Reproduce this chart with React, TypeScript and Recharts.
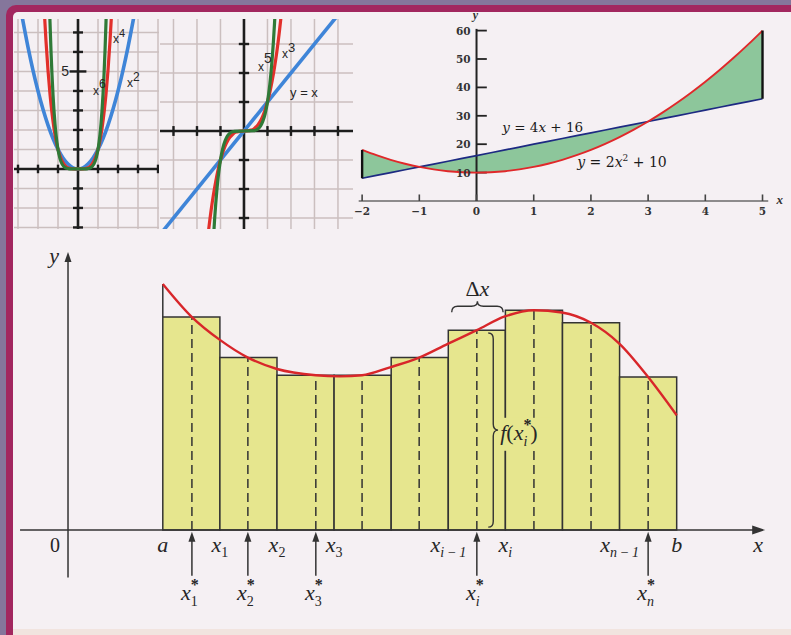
import React from 'react';
import {
  ComposedChart,
  Line,
  Area,
  XAxis,
  YAxis,
  ReferenceLine,
  ReferenceDot,
  ReferenceArea,
} from 'recharts';

// ---------------- top-left: even powers ----------------
const squareX = [-2.8, -2.5, -2.25, -2, -1.75, -1.5, -1.25, -1, -0.75, -0.5, -0.25, 0, 0.25, 0.5, 0.75, 1, 1.25, 1.5, 1.75, 2, 2.25, 2.5, 2.8];
const squareY = [7.84, 6.25, 5.06, 4, 3.06, 2.25, 1.56, 1, 0.56, 0.25, 0.06, 0, 0.06, 0.25, 0.56, 1, 1.56, 2.25, 3.06, 4, 5.06, 6.25, 7.84];
const fourthX = [-1.7, -1.6, -1.5, -1.4, -1.3, -1.2, -1.1, -1, -0.9, -0.8, -0.7, -0.6, -0.5, -0.4, -0.3, -0.2, 0, 0.2, 0.3, 0.4, 0.5, 0.6, 0.7, 0.8, 0.9, 1, 1.1, 1.2, 1.3, 1.4, 1.5, 1.6, 1.7];
const fourthY = [8.35, 6.55, 5.06, 3.84, 2.86, 2.07, 1.46, 1, 0.66, 0.41, 0.24, 0.13, 0.06, 0.03, 0.01, 0, 0, 0, 0.01, 0.03, 0.06, 0.13, 0.24, 0.41, 0.66, 1, 1.46, 2.07, 2.86, 3.84, 5.06, 6.55, 8.35];
const sixthX = [-1.45, -1.4, -1.35, -1.3, -1.25, -1.2, -1.15, -1.1, -1.05, -1, -0.95, -0.9, -0.8, -0.7, -0.6, -0.5, -0.4, 0, 0.4, 0.5, 0.6, 0.7, 0.8, 0.9, 0.95, 1, 1.05, 1.1, 1.15, 1.2, 1.25, 1.3, 1.35, 1.4, 1.45];
const sixthY = [9.29, 7.53, 6.05, 4.83, 3.81, 2.99, 2.31, 1.77, 1.34, 1, 0.74, 0.53, 0.26, 0.12, 0.05, 0.02, 0, 0, 0, 0.02, 0.05, 0.12, 0.26, 0.53, 0.74, 1, 1.34, 1.77, 2.31, 2.99, 3.81, 4.83, 6.05, 7.53, 9.29];
const evenGridX = [-3, -2, -1, 1, 2, 3, 4];
const evenGridY = [-3, -2, -1, 1, 2, 3, 4, 5, 6, 7];

// ---------------- top-middle: odd powers ----------------
const identityX = [-3.6, 4.7];
const identityY = [-3.6, 4.7];
const cubeX = [-1.6, -1.5, -1.4, -1.3, -1.2, -1.1, -1, -0.9, -0.8, -0.7, -0.6, -0.5, -0.4, -0.3, -0.2, 0, 0.2, 0.3, 0.4, 0.5, 0.6, 0.7, 0.8, 0.9, 1, 1.1, 1.2, 1.3, 1.4, 1.5, 1.6];
const cubeY = [-4.1, -3.38, -2.74, -2.2, -1.73, -1.33, -1, -0.73, -0.51, -0.34, -0.22, -0.13, -0.06, -0.03, -0.01, 0, 0.01, 0.03, 0.06, 0.13, 0.22, 0.34, 0.51, 0.73, 1, 1.33, 1.73, 2.2, 2.74, 3.38, 4.1];
const fifthX = [-1.35, -1.3, -1.25, -1.2, -1.15, -1.1, -1.05, -1, -0.9, -0.8, -0.7, -0.6, -0.5, -0.4, 0, 0.4, 0.5, 0.6, 0.7, 0.8, 0.9, 1, 1.05, 1.1, 1.15, 1.2, 1.25, 1.3, 1.35];
const fifthY = [-4.48, -3.71, -3.05, -2.49, -2.01, -1.61, -1.28, -1, -0.59, -0.33, -0.17, -0.08, -0.03, -0.01, 0, 0.01, 0.03, 0.08, 0.17, 0.33, 0.59, 1, 1.28, 1.61, 2.01, 2.49, 3.05, 3.71, 4.48];
const oddGridX = [-3, -2, -1, 1, 2, 3, 4];
const oddGridY = [-3, -2, -1, 1, 2, 3];

// ---------------- top-right: area between curves ----------------
const regionX = [-2, -1.75, -1.5, -1.25, -1, -0.75, -0.5, -0.25, 0, 0.25, 0.5, 0.75, 1, 1.25, 1.5, 1.75, 2, 2.25, 2.5, 2.75, 3, 3.25, 3.5, 3.75, 4, 4.25, 4.5, 4.75, 5];
const parabolaY = [18, 16.13, 14.5, 13.13, 12, 11.13, 10.5, 10.13, 10, 10.13, 10.5, 11.13, 12, 13.13, 14.5, 16.13, 18, 20.13, 22.5, 25.13, 28, 31.13, 34.5, 38.13, 42, 46.13, 50.5, 55.13, 60];
const straightY = [8, 9, 10, 11, 12, 13, 14, 15, 16, 17, 18, 19, 20, 21, 22, 23, 24, 25, 26, 27, 28, 29, 30, 31, 32, 33, 34, 35, 36];
const regionTicksX = [-2, -1, 0, 1, 2, 3, 4, 5];
const regionTickLabelsX = ['\u22122', '\u22121', '0', '1', '2', '3', '4', '5'];
const regionTicksY = [10, 20, 30, 40, 50, 60];

// ---------------- bottom: Riemann sum ----------------
const partitionEdges = [1.66, 2.66, 3.66, 4.66, 5.66, 6.66, 7.66, 8.66, 9.66, 10.66];
const rectHeights = [3.73, 3.02, 2.71, 2.71, 3.02, 3.5, 3.85, 3.63, 2.68];
const samplePoints = [2.17, 3.15, 4.34, 5.15, 6.15, 7.16, 8.16, 9.16, 10.16];
const curveX = [1.66, 2.17, 2.66, 3.15, 3.66, 4.34, 4.76, 5.15, 5.64, 6.15, 6.65, 7.16, 7.65, 8.16, 8.65, 9.16, 9.65, 10.16, 10.66];
const curveY = [4.31, 3.73, 3.33, 3.02, 2.82, 2.71, 2.69, 2.71, 2.85, 3.02, 3.26, 3.5, 3.74, 3.85, 3.81, 3.63, 3.27, 2.68, 2.01];
const edgeLabelIdx = [0, 1, 2, 3, 5, 6, 8, 9];
const edgeLabelMain = ['a', 'x', 'x', 'x', 'x', 'x', 'x', 'b'];
const edgeLabelSub = ['', '1', '2', '3', 'i\u2009\u2212\u20091', 'i', 'n\u2009\u2212\u20091', ''];
const starIdx = [0, 1, 2, 5, 8];
const starSub = ['1', '2', '3', 'i', 'n'];

// ---------------- styles ----------------
const M0 = { top: 0, right: 0, bottom: 0, left: 0 };
const SANS = '"Liberation Sans", Arial, sans-serif';
const SERIF = '"Liberation Serif", "Times New Roman", serif';
const BOOK = '"DejaVu Serif", serif';
const GRID = '#cbbfbf';
const AXIS = '#1d1d1d';
const BLUE = '#3f85d8';
const RED = '#e2302b';
const GREEN = '#2f7a37';
const BAR = '#e6e68e';
const INK = '#262626';

const pairs = (xs: number[], ys: number[]) => xs.map((x, i) => ({ x, y: ys[i] }));
const isItalicSub = (s: string) => /^[a-z]/.test(s);

const mark = (key: string, x: number, y: number, draw: (cx: number, cy: number) => React.ReactNode) => (
  <ReferenceDot
    key={key}
    x={x}
    y={y}
    r={1}
    ifOverflow="visible"
    zIndex={2000}
    shape={(p: any) => <g>{draw(p.cx, p.cy)}</g>}
  />
);

function EvenPowers() {
  return (
    <ComposedChart width={145} height={210} margin={M0}>
      <XAxis type="number" dataKey="x" domain={[-3.2, 4.05]} hide allowDataOverflow />
      <YAxis type="number" domain={[-3.08, 7.69]} hide allowDataOverflow />
      {evenGridX.map((v) => (
        <ReferenceLine key={'gx' + v} x={v} stroke={GRID} strokeWidth={1.5} zIndex={0} />
      ))}
      {evenGridY.map((v) => (
        <ReferenceLine key={'gy' + v} y={v} stroke={GRID} strokeWidth={1.5} zIndex={0} />
      ))}
      <ReferenceLine x={0} stroke={AXIS} strokeWidth={2.6} zIndex={10} />
      <ReferenceLine y={0} stroke={AXIS} strokeWidth={2.6} zIndex={10} />
      {evenGridX.map((v) => (
        <ReferenceLine key={'tx' + v} segment={[{ x: v, y: -0.22 }, { x: v, y: 0.22 }]} stroke={AXIS} strokeWidth={2.4} zIndex={10} />
      ))}
      {evenGridY.map((v) => (
        <ReferenceLine
          key={'ty' + v}
          segment={[{ x: v === 5 ? -0.42 : -0.25, y: v }, { x: v === 5 ? 0.42 : 0.25, y: v }]}
          stroke={AXIS}
          strokeWidth={2.4}
          zIndex={10}
        />
      ))}
      <Line data={pairs(squareX, squareY)} dataKey="y" type="monotone" stroke={BLUE} strokeWidth={3.6} dot={false} isAnimationActive={false} zIndex={400} />
      <Line data={pairs(fourthX, fourthY)} dataKey="y" type="monotone" stroke={RED} strokeWidth={3.2} dot={false} isAnimationActive={false} zIndex={401} />
      <Line data={pairs(sixthX, sixthY)} dataKey="y" type="monotone" stroke={GREEN} strokeWidth={3.2} dot={false} isAnimationActive={false} zIndex={402} />
      {mark('l5', -0.45, 5, (cx, cy) => (
        <text x={cx} y={cy + 5} textAnchor="end" fontFamily={SANS} fontSize={14} fill={INK}>5</text>
      ))}
      {mark('l4', 1.75, 6.46, (cx, cy) => (
        <text x={cx} y={cy} fontFamily={SANS} fontSize={12} fill={INK}>x<tspan dy={-6} fontSize={11}>4</tspan></text>
      ))}
      {mark('l6', 0.75, 3.8, (cx, cy) => (
        <text x={cx} y={cy} fontFamily={SANS} fontSize={12} fill={INK}>x<tspan dy={-7} fontSize={12}>6</tspan></text>
      ))}
      {mark('l2', 2.45, 4.2, (cx, cy) => (
        <text x={cx} y={cy} fontFamily={SANS} fontSize={12} fill={INK}>x<tspan dy={-6} fontSize={12}>2</tspan></text>
      ))}
    </ComposedChart>
  );
}

function OddPowers() {
  return (
    <ComposedChart width={193} height={210} margin={M0}>
      <XAxis type="number" dataKey="x" domain={[-3.574, 4.64]} hide allowDataOverflow />
      <YAxis type="number" domain={[-3.379, 3.862]} hide allowDataOverflow />
      {oddGridX.map((v) => (
        <ReferenceLine key={'gx' + v} x={v} stroke={GRID} strokeWidth={1.5} zIndex={0} />
      ))}
      {oddGridY.map((v) => (
        <ReferenceLine key={'gy' + v} y={v} stroke={GRID} strokeWidth={1.5} zIndex={0} />
      ))}
      <ReferenceLine x={0} stroke={AXIS} strokeWidth={2.6} zIndex={10} />
      <ReferenceLine y={0} stroke={AXIS} strokeWidth={2.6} zIndex={10} />
      {oddGridX.map((v) => (
        <ReferenceLine key={'tx' + v} segment={[{ x: v, y: -0.17 }, { x: v, y: 0.17 }]} stroke={AXIS} strokeWidth={2.4} zIndex={10} />
      ))}
      {oddGridY.map((v) => (
        <ReferenceLine key={'ty' + v} segment={[{ x: -0.22, y: v }, { x: 0.22, y: v }]} stroke={AXIS} strokeWidth={2.4} zIndex={10} />
      ))}
      <Line data={pairs(identityX, identityY)} dataKey="y" type="linear" stroke={BLUE} strokeWidth={3.6} dot={false} isAnimationActive={false} zIndex={400} />
      <Line data={pairs(cubeX, cubeY)} dataKey="y" type="monotone" stroke={RED} strokeWidth={3.2} dot={false} isAnimationActive={false} zIndex={401} />
      <Line data={pairs(fifthX, fifthY)} dataKey="y" type="monotone" stroke={GREEN} strokeWidth={3.2} dot={false} isAnimationActive={false} zIndex={402} />
      {mark('l5', 0.6, 2.07, (cx, cy) => (
        <text x={cx} y={cy} fontFamily={SANS} fontSize={12} fill={INK}>x<tspan dy={-8} fontSize={14}>5</tspan></text>
      ))}
      {mark('l3', 1.62, 2.52, (cx, cy) => (
        <text x={cx} y={cy} fontFamily={SANS} fontSize={12} fill={INK}>x<tspan dy={-6} fontSize={13}>3</tspan></text>
      ))}
      {mark('lx', 1.96, 1.17, (cx, cy) => (
        <text x={cx} y={cy} fontFamily={SANS} fontSize={13} fill={INK}>y = x</text>
      ))}
    </ComposedChart>
  );
}

const regionRows = regionX.map((x, i) => ({
  x,
  p: parabolaY[i],
  l: straightY[i],
  band: [Math.min(parabolaY[i], straightY[i]), Math.max(parabolaY[i], straightY[i])],
}));

function AreaBetween() {
  return (
    <ComposedChart width={441} height={220} data={regionRows} margin={M0}>
      <XAxis type="number" dataKey="x" domain={[-2.212, 5.498]} hide allowDataOverflow />
      <YAxis type="number" domain={[-8.8, 68.66]} hide allowDataOverflow />
      <Area type="linear" dataKey="band" fill="#8dc69b" fillOpacity={1} stroke="none" isAnimationActive={false} zIndex={100} />
      <ReferenceLine segment={[{ x: -2.06, y: 0 }, { x: 5.1, y: 0 }]} stroke="#6a6a6a" strokeWidth={1.6} zIndex={300} />
      <ReferenceLine segment={[{ x: 0, y: 0 }, { x: 0, y: 60.6 }]} stroke="#222" strokeWidth={2} zIndex={300} />
      {regionTicksX.map((v) => (
        <ReferenceLine key={'tx' + v} segment={[{ x: v, y: 0 }, { x: v, y: 2.3 }]} stroke="#444" strokeWidth={1.6} zIndex={300} />
      ))}
      {regionTicksY.map((v) => (
        <ReferenceLine key={'ty' + v} segment={[{ x: 0, y: v }, { x: 0.18, y: v }]} stroke="#222" strokeWidth={1.8} zIndex={300} />
      ))}
      <ReferenceLine segment={[{ x: -2, y: 8 }, { x: -2, y: 18 }]} stroke="#111" strokeWidth={2.4} zIndex={450} />
      <ReferenceLine segment={[{ x: 5, y: 36 }, { x: 5, y: 60 }]} stroke="#111" strokeWidth={2.4} zIndex={450} />
      <Line dataKey="l" type="linear" stroke="#1d2a82" strokeWidth={1.7} dot={false} isAnimationActive={false} zIndex={400} />
      <Line dataKey="p" type="monotone" stroke="#e0282a" strokeWidth={1.9} dot={false} isAnimationActive={false} zIndex={401} />
      {regionTicksX.map((v, i) =>
        mark('lx' + v, v, 0, (cx, cy) => (
          <text x={cx} y={cy + 14} textAnchor="middle" fontFamily={BOOK} fontWeight="bold" fontSize={10.5} fill="#333">
            {regionTickLabelsX[i]}
          </text>
        )),
      )}
      {regionTicksY.map((v) =>
        mark('ly' + v, 0, v, (cx, cy) => (
          <text x={cx - 6} y={cy + 4} textAnchor="end" fontFamily={BOOK} fontWeight="bold" fontSize={10.5} fill="#333">
            {v}
          </text>
        )),
      )}
      {mark('yl', 0, 60.6, (cx, cy) => (
        <text x={cx - 1} y={cy - 10} textAnchor="middle" fontFamily={SERIF} fontStyle="italic" fontWeight="bold" fontSize={12} fill="#333">y</text>
      ))}
      {mark('xl', 5.3, 0, (cx, cy) => (
        <text x={cx} y={cy + 3} textAnchor="middle" fontFamily={SERIF} fontStyle="italic" fontWeight="bold" fontSize={13} fill="#333">x</text>
      ))}
      {mark('eq1', 0.45, 24.3, (cx, cy) => (
        <text x={cx} y={cy} fontFamily={BOOK} fontSize={13.5} fill="#1a1a1a">
          <tspan fontStyle="italic">y</tspan> = 4<tspan fontStyle="italic">x</tspan> + 16
        </text>
      ))}
      {mark('eq2', 1.76, 12.0, (cx, cy) => (
        <text x={cx} y={cy} fontFamily={BOOK} fontSize={14} fill="#1a1a1a">
          <tspan fontStyle="italic">y</tspan> = 2<tspan fontStyle="italic">x</tspan>
          <tspan dy={-6} fontSize={9}>2</tspan>
          <tspan dy={6}> + 10</tspan>
        </text>
      ))}
    </ComposedChart>
  );
}

const upArrowShape = (p: any) => (
  <g>
    <line x1={p.x1} y1={p.y1} x2={p.x2} y2={p.y2 + 4} stroke="#333" strokeWidth={1.5} />
    <path d={`M${p.x2},${p.y2} l-3.5,10 l7,0 z`} fill="#333" />
  </g>
);
const rightArrowShape = (p: any) => (
  <g>
    <line x1={p.x1} y1={p.y1} x2={p.x2 - 4} y2={p.y2} stroke="#333" strokeWidth={1.5} />
    <path d={`M${p.x2},${p.y2} l-13,-4.5 l0,9 z`} fill="#333" />
  </g>
);
const vBraceShape = (p: any) => {
  const x = p.x1;
  const top = Math.min(p.y1, p.y2);
  const bot = Math.max(p.y1, p.y2);
  const mid = (top + bot) / 2;
  const d = `M${x - 4},${top} Q${x + 1},${top} ${x + 1},${top + 6} L${x + 1},${mid - 6} Q${x + 1},${mid} ${x + 6},${mid} Q${x + 1},${mid} ${x + 1},${mid + 6} L${x + 1},${bot - 6} Q${x + 1},${bot} ${x - 4},${bot}`;
  return <path d={d} fill="none" stroke="#333" strokeWidth={1.4} />;
};
const hBraceShape = (p: any) => {
  const y = p.y1;
  const l = Math.min(p.x1, p.x2);
  const r = Math.max(p.x1, p.x2);
  const mid = (l + r) / 2;
  const d = `M${l},${y + 6} Q${l},${y} ${l + 6},${y} L${mid - 6},${y} Q${mid},${y} ${mid},${y - 5} Q${mid},${y} ${mid + 6},${y} L${r - 6},${y} Q${r},${y} ${r},${y + 6}`;
  return <path d={d} fill="none" stroke="#333" strokeWidth={1.4} />;
};

function RiemannSum() {
  return (
    <ComposedChart width={775} height={380} margin={M0}>
      <XAxis type="number" dataKey="x" domain={[-1.016, 12.557]} hide allowDataOverflow />
      <YAxis type="number" domain={[-1.576, 5.079]} hide allowDataOverflow />
      {rectHeights.map((h, i) => (
        <ReferenceArea
          key={'r' + i}
          x1={partitionEdges[i]}
          x2={partitionEdges[i + 1]}
          y1={0}
          y2={h}
          fill={BAR}
          fillOpacity={1}
          stroke="#333"
          strokeWidth={1.5}
          zIndex={100}
        />
      ))}
      {samplePoints.map((s, i) => (
        <ReferenceLine
          key={'d' + i}
          segment={[{ x: s, y: 0 }, { x: s, y: rectHeights[i] }]}
          stroke="#333"
          strokeWidth={1.5}
          strokeDasharray="9 5"
          zIndex={200}
        />
      ))}
      <ReferenceLine segment={[{ x: partitionEdges[0], y: rectHeights[0] }, { x: partitionEdges[0], y: curveY[0] }]} stroke="#333" strokeWidth={1.5} zIndex={200} />
      <ReferenceLine segment={[{ x: -0.84, y: 0 }, { x: 12.21, y: 0 }]} shape={rightArrowShape} zIndex={300} />
      <ReferenceLine segment={[{ x: 0, y: -0.83 }, { x: 0, y: 4.87 }]} shape={upArrowShape} zIndex={300} />
      {starIdx.map((k, i) => (
        <ReferenceLine key={'a' + i} segment={[{ x: samplePoints[k], y: -0.8 }, { x: samplePoints[k], y: -0.03 }]} shape={upArrowShape} zIndex={300} />
      ))}
      <ReferenceLine segment={[{ x: 7.43, y: 0.05 }, { x: 7.43, y: 3.45 }]} shape={vBraceShape} zIndex={600} />
      <ReferenceLine segment={[{ x: 6.72, y: 3.92 }, { x: 7.62, y: 3.92 }]} shape={hBraceShape} zIndex={600} />
      <Line data={pairs(curveX, curveY)} dataKey="y" type="monotone" stroke="#d8262a" strokeWidth={2.4} dot={false} isAnimationActive={false} zIndex={500} />
      {edgeLabelIdx.map((k, i) =>
        mark('e' + i, partitionEdges[k], 0, (cx, cy) => (
          <text x={cx} y={cy + 22} textAnchor="middle" fontFamily={SERIF} fontSize={22} fill={INK}>
            <tspan fontStyle="italic">{edgeLabelMain[i]}</tspan>
            {edgeLabelSub[i] ? (
              <tspan dy={5} fontSize={14} fontStyle={isItalicSub(edgeLabelSub[i]) ? 'italic' : 'normal'}>
                {edgeLabelSub[i]}
              </tspan>
            ) : null}
          </text>
        )),
      )}
      {starIdx.map((k, i) =>
        mark('s' + i, samplePoints[k], 0, (cx, cy) => (
          <text x={cx - 2} y={cy + 70} textAnchor="middle" fontFamily={SERIF} fontSize={22} fill={INK}>
            <tspan fontStyle="italic">x</tspan>
            <tspan dy={-10} fontSize={16} fontWeight="bold">*</tspan>
            <tspan dx={-8} dy={16} fontSize={14} fontStyle={isItalicSub(starSub[i]) ? 'italic' : 'normal'}>
              {starSub[i]}
            </tspan>
          </text>
        )),
      )}
      {mark('zero', 0, 0, (cx, cy) => (
        <text x={cx - 13} y={cy + 22} textAnchor="middle" fontFamily={SERIF} fontSize={20} fill={INK}>0</text>
      ))}
      {mark('xa', 12.21, 0, (cx, cy) => (
        <text x={cx - 7} y={cy + 22} textAnchor="middle" fontFamily={SERIF} fontStyle="italic" fontSize={22} fill={INK}>x</text>
      ))}
      {mark('ya', 0, 4.87, (cx, cy) => (
        <text x={cx - 14} y={cy + 11} textAnchor="middle" fontFamily={SERIF} fontStyle="italic" fontSize={22} fill={INK}>y</text>
      ))}
      {mark('dx', 7.17, 4.1, (cx, cy) => (
        <text x={cx} y={cy} textAnchor="middle" fontFamily={SERIF} fontSize={22} fill={INK}>
          {'\u0394'}<tspan fontStyle="italic">x</tspan>
        </text>
      ))}
      {mark('fx', 7.57, 1.58, (cx, cy) => (
        <g>
          <rect x={cx - 2} y={cy - 22} width={52} height={33} fill={BAR} />
          <text x={cx} y={cy} fontFamily={SERIF} fontSize={22} fill={INK}>
            <tspan fontStyle="italic">f</tspan>(<tspan fontStyle="italic">x</tspan>
            <tspan dy={-10} fontSize={16} fontWeight="bold">*</tspan>
            <tspan dx={-8} dy={16} fontSize={14} fontStyle="italic">i</tspan>
            <tspan dx={3} dy={-6}>)</tspan>
          </text>
        </g>
      ))}
    </ComposedChart>
  );
}

export default function App() {
  return (
    <div style={{ position: 'fixed', left: 0, top: 0, width: 791, height: 635, overflow: 'hidden', background: '#85769b' }}>
      <div style={{ position: 'absolute', left: 6, top: 5, width: 820, height: 660, background: '#a2275f', borderRadius: 10 }} />
      <div style={{ position: 'absolute', left: 13, top: 12, width: 820, height: 660, background: '#f5f0f3', borderRadius: 5 }} />
      <div style={{ position: 'absolute', left: 13, top: 629, width: 820, height: 10, background: '#f1e4df' }} />
      <div style={{ position: 'absolute', left: 14, top: 19 }}>
        <EvenPowers />
      </div>
      <div style={{ position: 'absolute', left: 160, top: 19 }}>
        <OddPowers />
      </div>
      <div style={{ position: 'absolute', left: 350, top: 6 }}>
        <AreaBetween />
      </div>
      <div style={{ position: 'absolute', left: 10, top: 240 }}>
        <RiemannSum />
      </div>
    </div>
  );
}
